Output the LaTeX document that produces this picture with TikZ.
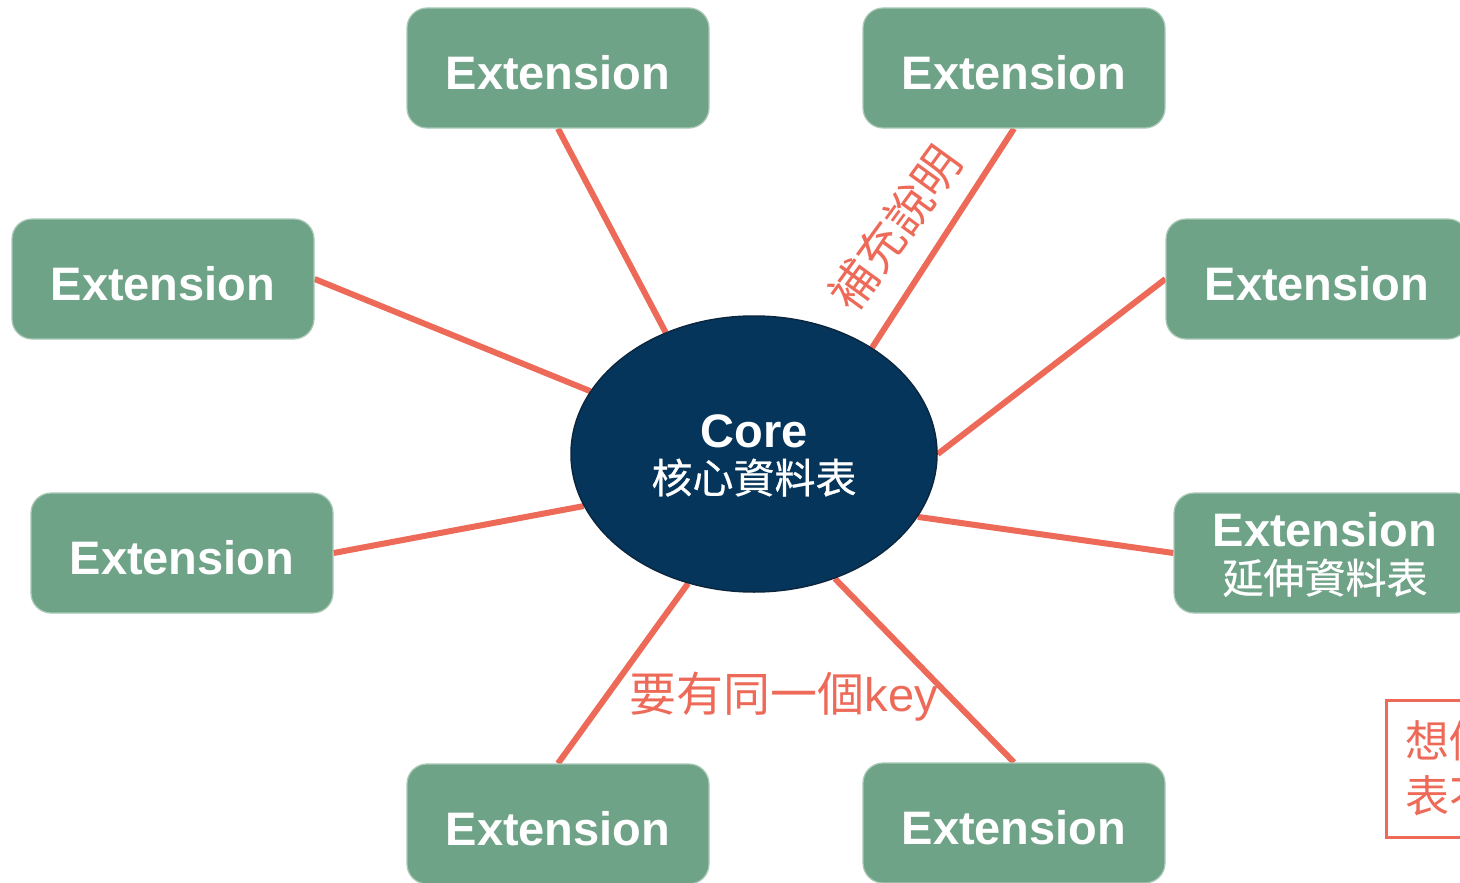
\documentclass[tikz,border=0pt]{standalone}
\usepackage{fontspec}
\setmainfont{Liberation Sans}
\newfontfamily\cjk{Noto Sans CJK TC}
\newfontfamily\cjkb[FakeBold=0.6]{Noto Sans CJK TC}
\usetikzlibrary{shapes.geometric}
\pgfdeclarelayer{bg}
\pgfsetlayers{bg,main}
\definecolor{extgreen}{HTML}{6FA388}
\definecolor{extedge}{HTML}{A9C9B6}
\definecolor{linered}{HTML}{EE6A58}
\definecolor{corenavy}{HTML}{05355A}
\definecolor{coreedge}{HTML}{0B2740}
\tikzset{
  extbox/.style={draw=extedge, line width=1.2pt, fill=extgreen, rounded corners=20pt,
    minimum width=302pt, minimum height=120pt, inner sep=0pt, text=white,
    font=\fontsize{47}{50}\selectfont\bfseries, align=center},
  corenode/.style={ellipse, draw=coreedge, line width=1.5pt, fill=corenavy,
    minimum width=366pt, minimum height=276pt, inner sep=0pt, text=white, align=center,
    font=\fontsize{47}{50}\selectfont},
  link/.style={draw=linered, line width=6pt},
  note/.style={text=linered, inner sep=0pt},
}
\newcommand{\ext}{\raisebox{-4pt}[\height][0pt]{Extension}}
\begin{document}
\begin{tikzpicture}[x=1pt,y=-1pt]
\useasboundingbox (0,0) rectangle (1460,883);
\node[corenode] (core) at (754,454) {\raisebox{-3pt}[\height][0pt]{\textbf{Core}}\\[-1pt]{\cjkb\fontsize{41}{50}\selectfont 核心資料表}};
\node[extbox] (e1) at (558,68) {\ext};
\node[extbox] (e2) at (1014,68) {\ext};
\node[extbox] (e3) at (163,279) {\ext};
\node[extbox] (e4) at (1317,279) {\ext};
\node[extbox] (e5) at (182,553) {\ext};
\node[extbox] (e6) at (1325,553) {\raisebox{-3pt}[\height][0pt]{Extension}\\[0pt]{\cjkb\fontsize{41}{50}\selectfont\mdseries 延伸資料表}};
\node[extbox] (e7) at (558,824) {\ext};
\node[extbox] (e8) at (1014,823) {\ext};
\begin{pgfonlayer}{bg}
\draw[link] (e1.south) -- (core.126.6);
\draw[link] (e2.south) -- (core.42.7);
\draw[link] (e3.east) -- (core.159.3);
\draw[link] (e4.west) -- (core.0);
\draw[link] (e5.east) -- (core.197.7);
\draw[link] (e6.west) -- (core.-21.4);
\draw[link] (e7.north) -- (core.243.1);
\draw[link] (e8.north) -- (core.-57.3);
\end{pgfonlayer}
\node[note, rotate=54, font=\cjk\fontsize{47}{49}\selectfont] (l1) at (895,228) {補充說明};
\node[note, font=\fontsize{47}{49}\selectfont] (l2) at (784,697) {{\cjk 要有同一個}key};
\node[draw=linered, line width=3pt, minimum width=140pt, minimum height=137pt, anchor=north west,
  inner sep=0pt] (memo) at (1385,699) {};
\node[note, anchor=west, font=\cjk\fontsize{44}{55}\selectfont, align=left] (memotext) at (1405,768) {想做\\表不};
\end{tikzpicture}
\end{document}
